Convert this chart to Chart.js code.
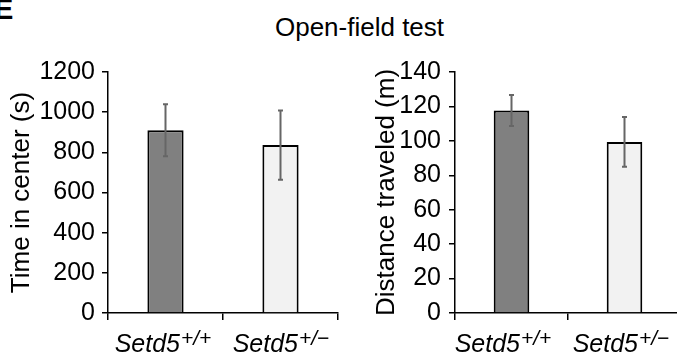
<!DOCTYPE html>
<html>
<head>
<meta charset="utf-8">
<script src="https://cdn.jsdelivr.net/npm/chart.js@4.4.0/dist/chart.umd.min.js"></script>
<style>
  body { margin: 0; width: 677px; height: 358px; overflow: hidden; background: #fff; position: relative;
         font-family: "Liberation Sans", Arial, sans-serif; }
  #panel { position: absolute; left: -6px; top: -5px; font-size: 29px; line-height: 29px; font-weight: bold; }
  #title { position: absolute; left: 0; width: 719px; top: 14px; font-size: 26px; line-height: 26px; text-align: center; }
  #c1 { position: absolute; left: 0; top: 0; }
  #c2 { position: absolute; left: 340px; top: 0; }
</style>
</head>
<body>
<div id="panel">E</div>
<div id="title">Open-field test</div>
<canvas id="c1" width="340" height="358"></canvas>
<canvas id="c2" width="345" height="358"></canvas>
<script>
var family = '"Liberation Sans", Arial, sans-serif';

// data
var genotypes = ['Setd5', 'Setd5'];
var alleles = ['+/+', '+/\u2212'];
var barColors = ['#808080', '#f2f2f2'];

var timeMean = [910, 836];
var timeErr = [130, 172];
var timeTicks = [0, 200, 400, 600, 800, 1000, 1200];

var distMean = [117.7, 99.4];
var distErr = [9, 14.5];
var distTicks = [0, 20, 40, 60, 80, 100, 120, 140];

// error bars, drawn through the y scale
var errorBars = {
  id: 'errorBars',
  afterDatasetsDraw: function (chart) {
    var ctx = chart.ctx;
    var y = chart.scales.y;
    var meta = chart.getDatasetMeta(0);
    var errs = chart.data.datasets[0].errs;
    var means = chart.data.datasets[0].data;
    ctx.save();
    ctx.strokeStyle = '#666';
    ctx.lineWidth = 2;
    meta.data.forEach(function (bar, i) {
      var top = y.getPixelForValue(means[i] + errs[i]);
      var bot = y.getPixelForValue(means[i] - errs[i]);
      ctx.beginPath();
      ctx.moveTo(bar.x, top); ctx.lineTo(bar.x, bot);
      ctx.moveTo(bar.x - 2.5, top); ctx.lineTo(bar.x + 2.5, top);
      ctx.moveTo(bar.x - 2.5, bot); ctx.lineTo(bar.x + 2.5, bot);
      ctx.stroke();
    });
    ctx.restore();
  }
};

// italic genotype labels with superscript alleles
var genoLabels = {
  id: 'genoLabels',
  afterDraw: function (chart) {
    var ctx = chart.ctx;
    var x = chart.scales.x;
    var shift = chart.options.labelShift;
    ctx.save();
    ctx.fillStyle = '#000';
    ctx.textBaseline = 'alphabetic';
    ctx.textAlign = 'left';
    genotypes.forEach(function (g, i) {
      ctx.font = 'italic 25px ' + family;
      var w1 = ctx.measureText(g).width;
      ctx.font = 'italic 21px ' + family;
      var w2 = ctx.measureText(alleles[i]).width;
      var left = x.getPixelForValue(i) + shift[i] - (w1 + w2) / 2;
      var base = 352;
      ctx.font = 'italic 25px ' + family;
      ctx.fillText(g, left, base);
      ctx.font = 'italic 21px ' + family;
      ctx.fillText(alleles[i], left + w1 + 1, base - 7);
    });
    ctx.restore();
  }
};

function makeChart(id, means, errs, ticks, yTitle, axisLeft, tickPad, titlePad, padRight, labelShift) {
  return new Chart(document.getElementById(id), {
    type: 'bar',
    data: {
      labels: genotypes,
      datasets: [{
        data: means,
        errs: errs,
        backgroundColor: barColors,
        borderColor: '#000',
        borderWidth: 2,
        barPercentage: 0.315,
        categoryPercentage: 1
      }]
    },
    options: {
      responsive: false,
      animation: false,
      events: [],
      labelShift: labelShift,
      layout: { padding: { top: 72, right: padRight, left: 0, bottom: 0 } },
      plugins: { legend: { display: false }, tooltip: { enabled: false } },
      scales: {
        x: {
          ticks: { display: false },
          grid: { offset: true, drawOnChartArea: false, drawTicks: true, tickLength: 7, color: '#000', lineWidth: 1.5 },
          border: { color: '#000', width: 1.5 },
          afterFit: function (s) { s.height = 45; }
        },
        y: {
          min: ticks[0],
          max: ticks[ticks.length - 1],
          afterBuildTicks: function (s) { s.ticks = ticks.map(function (v) { return { value: v }; }); },
          ticks: { color: '#000', font: { size: 25, family: family }, padding: tickPad,
                   callback: function (v) { return String(v); } },
          grid: { drawOnChartArea: false, tickLength: 6, color: '#000', lineWidth: 1.5 },
          border: { color: '#000', width: 1.5 },
          title: { display: true, text: yTitle, color: '#000', font: { size: 26, family: family }, padding: { top: titlePad, bottom: 0 } },
          afterFit: function (s) { s.width = axisLeft; }
        }
      }
    },
    plugins: [errorBars, genoLabels]
  });
}

makeChart('c1', timeMean, timeErr, timeTicks, 'Time in center (s)', 108, 7, 6, 2, [-3, 0]);
makeChart('c2', distMean, distErr, distTicks, 'Distance traveled (m)', 115, 8, 31, 4, [-9, -4]);
</script>
</body>
</html>
